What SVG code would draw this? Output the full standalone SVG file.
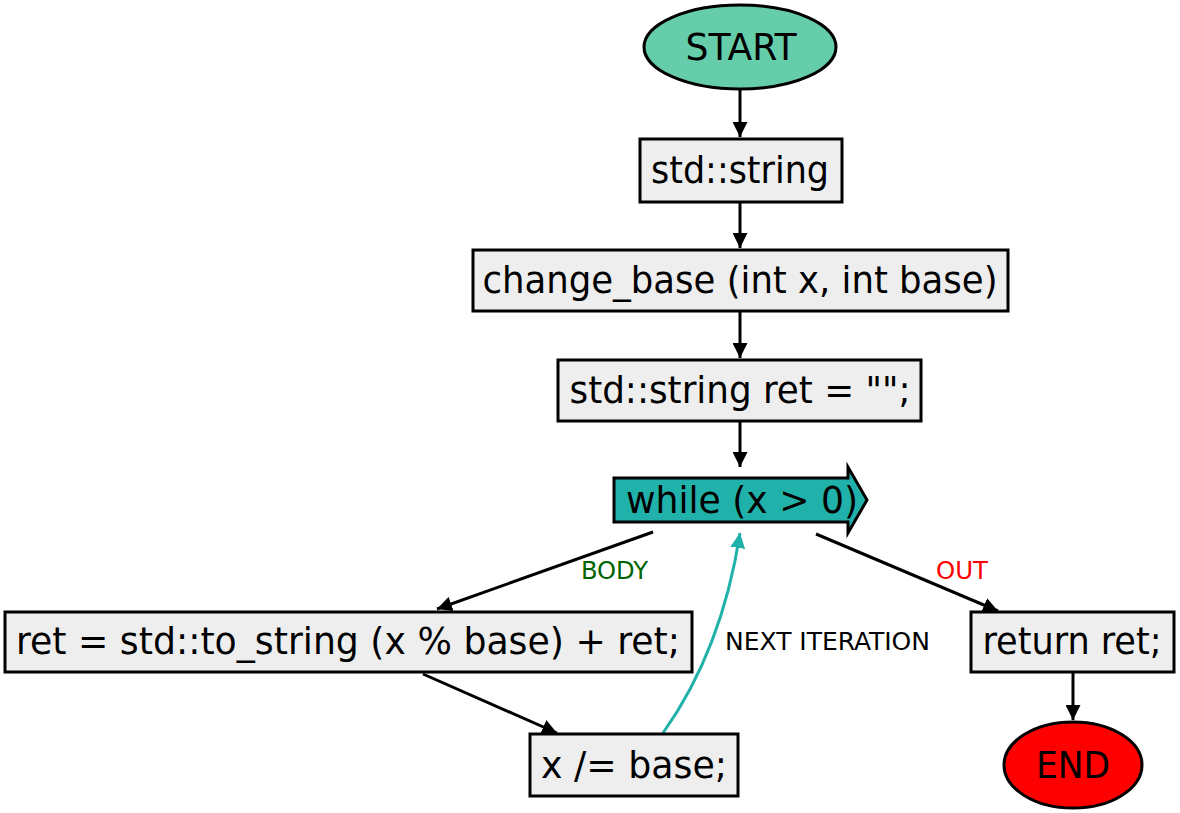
<svg xmlns="http://www.w3.org/2000/svg" width="1180" height="813" viewBox="0 0 1180 813">
<style>
text{font-family:"DejaVu Sans Condensed","DejaVu Sans",sans-serif;}
.n{font-size:38px;text-anchor:middle;fill:#000;}
.l{font-size:25px;}
.box{fill:#eeeeee;stroke:#000;stroke-width:3;}
.e{fill:none;stroke:#000;stroke-width:3;}
</style>
<defs>
<marker id="ah" viewBox="0 0 10 10" refX="10" refY="5" markerWidth="5" markerHeight="5" markerUnits="strokeWidth" orient="auto">
<path d="M0,0 L10,5 L0,10 z" fill="#000"/>
</marker>
<marker id="ahc" viewBox="0 0 10 10" refX="10" refY="5" markerWidth="5" markerHeight="5" markerUnits="strokeWidth" orient="auto">
<path d="M0,0 L10,5 L0,10 z" fill="#20b2aa"/>
</marker>
</defs>
<g id="connectors">
<line class="e" x1="740" y1="90" x2="740" y2="137" marker-end="url(#ah)"/>
<line class="e" x1="740" y1="202" x2="740" y2="248" marker-end="url(#ah)"/>
<line class="e" x1="740" y1="312" x2="740" y2="358" marker-end="url(#ah)"/>
<line class="e" x1="740" y1="422" x2="740" y2="467" marker-end="url(#ah)"/>
<line class="e" x1="653" y1="532" x2="437" y2="609" marker-end="url(#ah)"/>
<line class="e" x1="816" y1="534" x2="998" y2="611" marker-end="url(#ah)"/>
<line class="e" x1="423" y1="674" x2="557" y2="733" marker-end="url(#ah)"/>
<path d="M663,733 Q722,650 740,533" fill="none" stroke="#20b2aa" stroke-width="3" marker-end="url(#ahc)"/>
<line class="e" x1="1073" y1="673" x2="1073" y2="720" marker-end="url(#ah)"/>
<text class="l" x="581" y="579" textLength="67" lengthAdjust="spacingAndGlyphs" fill="#006400">BODY</text>
<text class="l" x="936" y="579" textLength="52" lengthAdjust="spacingAndGlyphs" fill="#ff0000">OUT</text>
<text class="l" x="725" y="650" textLength="205" lengthAdjust="spacingAndGlyphs" fill="#000">NEXT ITERATION</text>
</g>
<g id="start">
<ellipse cx="740" cy="47" rx="96" ry="42" fill="#66cdaa" stroke="#000" stroke-width="3"/>
<text class="n" x="741" y="60" textLength="111" lengthAdjust="spacingAndGlyphs">START</text>
</g>
<g id="n1">
<rect class="box" x="640" y="139" width="202" height="63"/>
<text class="n" x="740" y="183" textLength="178" lengthAdjust="spacingAndGlyphs">std::string</text>
</g>
<g id="n2">
<rect class="box" x="473" y="250" width="535" height="61"/>
<text class="n" x="740" y="293" textLength="515" lengthAdjust="spacingAndGlyphs">change_base (int x, int base)</text>
</g>
<g id="n3">
<rect class="box" x="558" y="360" width="363" height="61"/>
<text class="n" x="740" y="403" textLength="341" lengthAdjust="spacingAndGlyphs">std::string ret = "";</text>
</g>
<g id="while">
<path d="M614,478 L848,478 L848,467 L867,500 L848,533 L848,522 L614,522 Z" fill="#20b2aa" stroke="#000" stroke-width="3"/>
<text class="n" x="742" y="513" textLength="232" lengthAdjust="spacingAndGlyphs">while (x &gt; 0)</text>
</g>
<g id="body1">
<rect class="box" x="5" y="612" width="687" height="60"/>
<text class="n" x="348" y="654" textLength="664" lengthAdjust="spacingAndGlyphs">ret = std::to_string (x % base) + ret;</text>
</g>
<g id="body2">
<rect class="box" x="530" y="734" width="208" height="62"/>
<text class="n" x="634" y="778" textLength="186" lengthAdjust="spacingAndGlyphs">x /= base;</text>
</g>
<g id="ret">
<rect class="box" x="971" y="612" width="203" height="60"/>
<text class="n" x="1072" y="654" textLength="179" lengthAdjust="spacingAndGlyphs">return ret;</text>
</g>
<g id="end">
<ellipse cx="1073" cy="765" rx="69" ry="43" fill="#ff0000" stroke="#000" stroke-width="3"/>
<text class="n" x="1073" y="778" textLength="74" lengthAdjust="spacingAndGlyphs">END</text>
</g>
</svg>
